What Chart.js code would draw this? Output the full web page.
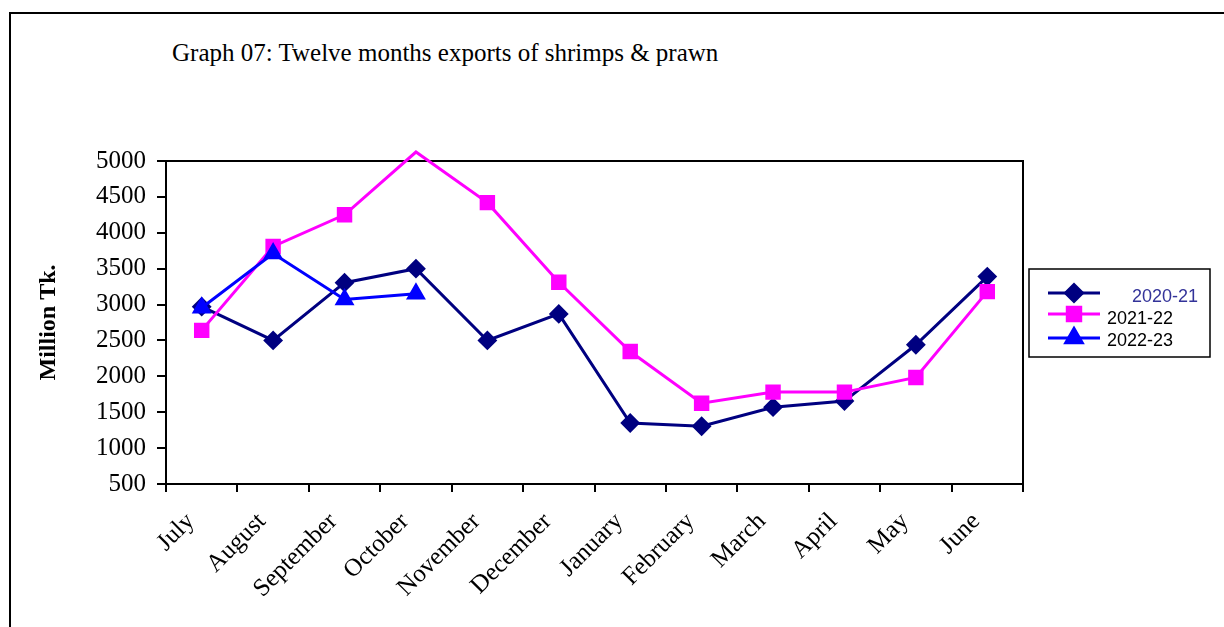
<!DOCTYPE html>
<html>
<head>
<meta charset="utf-8">
<script src="https://cdn.jsdelivr.net/npm/chart.js@4/dist/chart.umd.min.js"></script>
<style>
    html, body { margin:0; padding:0; background:#fff; }
    #wrap { position:relative; width:1224px; height:627px; overflow:hidden; }
    #frame { position:absolute; left:9px; top:12px; width:1230px; height:640px; border-top:2px solid #000; border-left:2px solid #000; }
    #title { position:absolute; left:172px; top:40px; font-family:"Liberation Serif"; font-size:25px; line-height:25px; white-space:nowrap; color:#000; }
    canvas { position:absolute; left:0; top:0; }
</style>
</head>
<body>
<div id="wrap">
    <div id="frame"></div>
    <div id="title">Graph 07: Twelve months exports of shrimps &amp; prawn</div>
    <canvas id="chart" width="1224" height="627"></canvas>
</div>
<script>
// 数据 (Million Tk.)
const months = ['July', 'August', 'September', 'October', 'November', 'December',
    'January', 'February', 'March', 'April', 'May', 'June'];
const exports2020_21 = [2970, 2500, 3305, 3500, 2500, 2870, 1350, 1305, 1570, 1655, 2440, 3390];
const exports2021_22 = [2640, 3810, 4250, 5125, 4420, 3310, 2345, 1625, 1780, 1780, 1985, 3180];
const exports2022_23 = [2955, 3710, 3070, 3150, null, null, null, null, null, null, null, null];
const yMin = 500, yMax = 5000, yStep = 500;

const serif = 'Liberation Serif';

// 超出坐标上限的点不画标记
const radiusFor = r => ctx => (ctx.raw != null && ctx.raw > yMax ? 0 : r);

// 绘图区四边框
const plotBox = {
    id: 'plotBox',
    beforeDatasetsDraw(chart) {
        const a = chart.chartArea, c = chart.ctx;
        c.save();
        c.strokeStyle = '#000';
        c.lineWidth = 2;
        c.strokeRect(a.left, a.top, a.right - a.left, a.bottom - a.top);
        c.restore();
    }
};

// 右侧图例 (线+标记)
const sideLegend = {
    id: 'sideLegend',
    afterDraw(chart) {
        const c = chart.ctx;
        c.save();
        c.fillStyle = '#fff';
        c.fillRect(1029, 269, 181, 88);
        c.strokeStyle = '#000';
        c.lineWidth = 1.5;
        c.strokeRect(1029, 269, 181, 88);
        const rows = [
            { ds: 0, y: 293, ty: 297, tx: 1132, color: '#333399' },
            { ds: 1, y: 314, ty: 319, tx: 1107, color: '#000' },
            { ds: 2, y: 338, ty: 341, tx: 1107, color: '#000' }
        ];
        c.font = '18px "Liberation Sans"';
        c.textBaseline = 'middle';
        rows.forEach(r => {
            const d = chart.data.datasets[r.ds];
            c.strokeStyle = d.borderColor;
            c.lineWidth = 3;
            c.beginPath();
            c.moveTo(1048, r.y);
            c.lineTo(1100, r.y);
            c.stroke();
            c.fillStyle = d.backgroundColor;
            Chart.helpers.drawPoint(c, { pointStyle: d.pointStyle, radius: d.legendRadius, rotation: 0, borderWidth: 1 }, 1074, r.y);
            c.fillStyle = r.color;
            c.fillText(d.label, r.tx, r.ty);
        });
        c.restore();
    }
};

new Chart(document.getElementById('chart'), {
    type: 'line',
    data: {
        labels: months,
        datasets: [
            { label: '2020-21', data: exports2020_21, borderColor: '#000080', backgroundColor: '#000080',
              pointStyle: 'rectRot', pointRadius: radiusFor(8.5), pointBorderWidth: 2, legendRadius: 8.5, order: 3 },
            { label: '2021-22', data: exports2021_22, borderColor: '#ff00ff', backgroundColor: '#ff00ff',
              pointStyle: 'rect', pointRadius: radiusFor(9.5), pointBorderWidth: 2, legendRadius: 9.5, order: 2 },
            { label: '2022-23', data: exports2022_23, borderColor: '#0000ff', backgroundColor: '#0000ff',
              pointStyle: 'triangle', pointRadius: radiusFor(9.5), pointBorderWidth: 2, legendRadius: 9.5, order: 1 }
        ].map(d => Object.assign({ borderWidth: 3, tension: 0, clip: false, spanGaps: false,
            pointHoverRadius: d.pointRadius }, d))
    },
    options: {
        responsive: false,
        animation: false,
        events: [],
        layout: { padding: { left: 0, top: 161, right: 201, bottom: 0 } },
        plugins: {
            legend: { display: false },
            tooltip: { enabled: false },
            title: { display: false }
        },
        scales: {
            x: {
                offset: true,
                grid: { display: true, drawOnChartArea: false, drawTicks: true, tickLength: 8, color: '#000', lineWidth: 2, offset: true },
                border: { color: '#000', width: 2 },
                ticks: { font: { family: serif, size: 25 }, color: '#000', minRotation: 45, maxRotation: 45,
                         autoSkip: false, padding: 15, labelOffset: -11 },
                afterFit: s => { s.height = 143; }
            },
            y: {
                min: yMin, max: yMax,
                grid: { drawOnChartArea: false, drawTicks: true, tickLength: 9, color: '#000', lineWidth: 2 },
                border: { color: '#000', width: 2 },
                ticks: { stepSize: yStep, font: { family: serif, size: 25 }, color: '#000', padding: 11,
                         callback: v => String(v) },
                title: { display: true, text: 'Million Tk.', color: '#000',
                         font: { family: serif, size: 24, weight: 'bold' }, padding: { top: 34, bottom: 0 } },
                afterFit: s => { s.width = 166; }
            }
        }
    },
    plugins: [plotBox, sideLegend]
});
</script>
</body>
</html>
